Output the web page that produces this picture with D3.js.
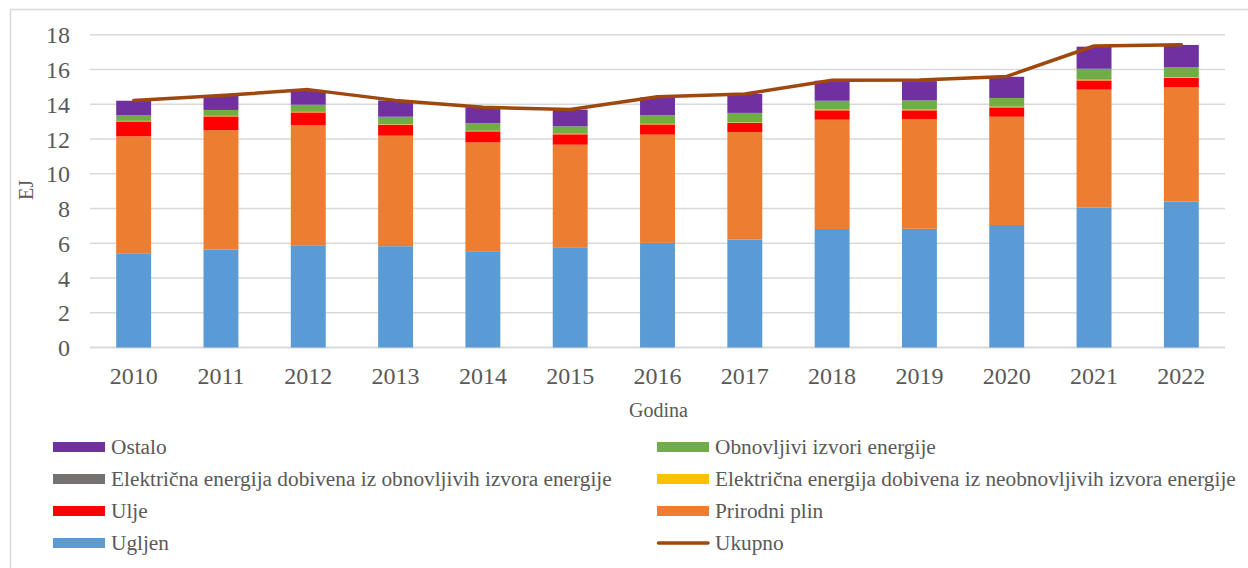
<!DOCTYPE html>
<html>
<head>
<meta charset="utf-8">
<script src="https://cdn.jsdelivr.net/npm/d3@7"></script>
<style>
  html, body { margin: 0; padding: 0; background: #fff; }
  svg { display: block; }
  svg text { font-family: "Liberation Serif", "Times New Roman", serif !important; fill: #595959; }
</style>
</head>
<body>
<svg id="chart" width="1248" height="568"></svg>
<script>
// ---- Data ----
const years = ["2010","2011","2012","2013","2014","2015","2016","2017","2018","2019","2020","2021","2022"];
const ugljen        = [5.39, 5.63, 5.85, 5.83, 5.54, 5.77, 6.02, 6.21, 6.82, 6.83, 7.05, 8.05, 8.40];
const prirodniPlin  = [6.76, 6.87, 6.95, 6.36, 6.26, 5.90, 6.23, 6.19, 6.29, 6.32, 6.23, 6.79, 6.59];
const ulje          = [0.86, 0.80, 0.73, 0.63, 0.64, 0.60, 0.59, 0.52, 0.54, 0.50, 0.54, 0.53, 0.52];
const elNeobnovljivi= [0.03, 0.03, 0.03, 0.03, 0.03, 0.03, 0.03, 0.03, 0.04, 0.04, 0.04, 0.04, 0.04];
const elObnovljivi  = [0.00, 0.00, 0.00, 0.00, 0.00, 0.00, 0.00, 0.00, 0.00, 0.00, 0.00, 0.00, 0.00];
const obnovljivi    = [0.34, 0.34, 0.41, 0.43, 0.43, 0.43, 0.49, 0.55, 0.51, 0.53, 0.50, 0.63, 0.59];
const ostalo        = [0.82, 0.83, 0.83, 0.94, 0.92, 0.96, 1.03, 1.09, 1.15, 1.11, 1.22, 1.27, 1.27];
const ukupno        = [14.22, 14.50, 14.84, 14.22, 13.82, 13.69, 14.43, 14.59, 15.38, 15.40, 15.60, 17.35, 17.42];
const yTicks = [0, 2, 4, 6, 8, 10, 12, 14, 16, 18];

const seriesNames = ["Ugljen", "Prirodni plin", "Ulje",
  "Električna energija dobivena iz neobnovljivih izvora energije",
  "Električna energija dobivena iz obnovljivih izvora energije",
  "Obnovljivi izvori energije", "Ostalo"];
const seriesValues = [ugljen, prirodniPlin, ulje, elNeobnovljivi, elObnovljivi, obnovljivi, ostalo];
const seriesColors = ["#5B9BD5", "#ED7D31", "#FF0000", "#FFC000", "#767171", "#70AD47", "#7030A0"];
const lineName = "Ukupno";
const lineColor = "#9E480E";

// ---- Layout ----
const svg = d3.select("#chart");
const plot = { left: 90, right: 1225, top: 34.7, bottom: 347.5 };
const FONT = '"Liberation Serif", "Times New Roman", serif';

const x = d3.scaleBand().domain(years).range([plot.left, plot.right])
  .paddingInner(0.6).paddingOuter(0.3);
const y = d3.scaleLinear().domain([0, 18]).range([plot.bottom, plot.top]);

// chart frame (partially visible)
svg.append("path")
  .attr("d", "M10.5,600 L10.5,9.5 L1300,9.5")
  .attr("fill", "none").attr("stroke", "#D9D9D9").attr("stroke-width", 1.5);

// gridlines
svg.append("g").selectAll("line").data(yTicks).join("line")
  .attr("x1", plot.left).attr("x2", plot.right)
  .attr("y1", d => y(d)).attr("y2", d => y(d))
  .attr("stroke", "#D9D9D9").attr("stroke-width", d => d === 0 ? 2 : 1.5);

// y axis labels
const yAxis = d3.axisLeft(y).tickValues(yTicks).tickSize(0).tickPadding(0);
const gy = svg.append("g").attr("transform", `translate(70,0)`).call(yAxis);
gy.select(".domain").remove();
gy.selectAll("text").style("font-size", "24px").style("font-family", FONT)
  .attr("fill", "#595959").attr("dy", "0.34em");

// stacked data
const rows = years.map((yr, i) => {
  const r = { year: yr };
  seriesNames.forEach((n, k) => r[n] = seriesValues[k][i]);
  return r;
});
const stacked = d3.stack().keys(seriesNames)(rows);

svg.append("g").selectAll("g").data(stacked).join("g")
  .attr("fill", (d, k) => seriesColors[k])
  .selectAll("rect").data(d => d).join("rect")
  .attr("x", d => x(d.data.year))
  .attr("width", x.bandwidth())
  .attr("y", d => y(d[1]))
  .attr("height", d => Math.max(0, y(d[0]) - y(d[1])));

// total line
const line = d3.line()
  .x((d, i) => x(years[i]) + x.bandwidth() / 2)
  .y(d => y(d));
svg.append("path").datum(ukupno)
  .attr("d", line)
  .attr("fill", "none").attr("stroke", lineColor)
  .attr("stroke-width", 3.5).attr("stroke-linejoin", "round").attr("stroke-linecap", "round");

// x axis labels
const xAxis = d3.axisBottom(x).tickSize(0).tickPadding(0);
const gx = svg.append("g").attr("transform", `translate(0,384)`).call(xAxis);
gx.select(".domain").remove();
gx.selectAll("text").style("font-size", "24px").style("font-family", FONT)
  .attr("fill", "#595959").attr("dy", "0").attr("y", 0);

// axis titles
svg.append("text").attr("x", (plot.left + plot.right) / 2 + 1).attr("y", 417)
  .attr("text-anchor", "middle").style("font-size", "20px").style("font-family", FONT).text("Godina");
svg.append("text").attr("transform", "translate(33,190) rotate(-90)")
  .attr("text-anchor", "middle").style("font-size", "20px").style("font-family", FONT).text("EJ");

// legend
const legendOrder = [
  { name: "Ostalo", k: 6 }, { name: "Obnovljivi izvori energije", k: 5 },
  { name: seriesNames[4], k: 4 }, { name: seriesNames[3], k: 3 },
  { name: "Ulje", k: 2 }, { name: "Prirodni plin", k: 1 },
  { name: "Ugljen", k: 0 }, { name: lineName, k: -1 }
];
const colX = [53, 657];
const rowY = [447, 479, 511, 543];
const lg = svg.append("g");
legendOrder.forEach((item, i) => {
  const cx = colX[i % 2], cy = rowY[Math.floor(i / 2)];
  if (item.k >= 0) {
    lg.append("rect").attr("x", cx).attr("y", cy - 5).attr("width", 52).attr("height", 10)
      .attr("fill", seriesColors[item.k]);
  } else {
    lg.append("line").attr("x1", cx + 1.5).attr("x2", cx + 51).attr("y1", cy).attr("y2", cy)
      .attr("stroke", lineColor).attr("stroke-width", 3.5).attr("stroke-linecap", "round");
  }
  lg.append("text").attr("x", cx + 58).attr("y", cy).attr("dy", "0.33em")
    .style("font-size", "21.3px").style("font-family", FONT).text(item.name);
});
</script>
</body>
</html>
